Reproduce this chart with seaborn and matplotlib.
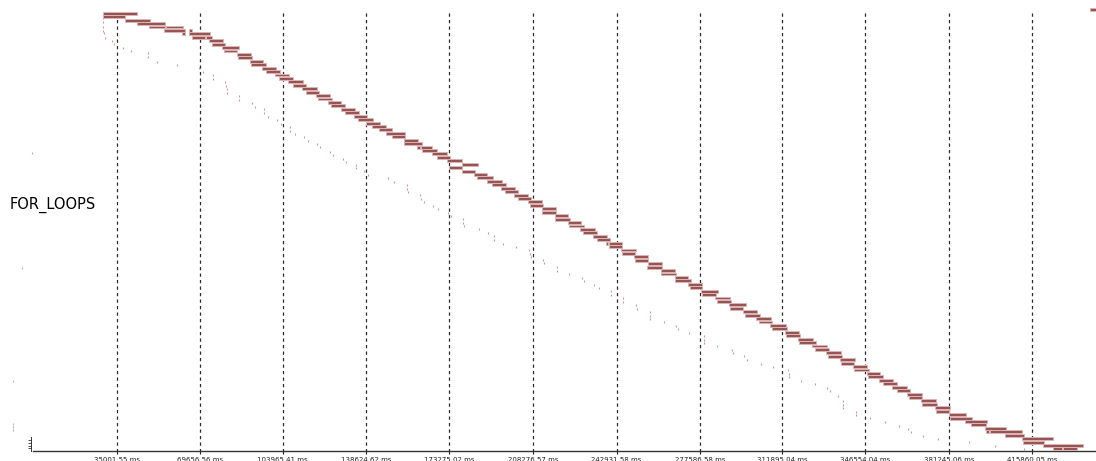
import matplotlib
matplotlib.use('Agg')

import numpy as np
import seaborn as sns
import matplotlib.pyplot as plt

# --- data (times in seconds, lanes counted from the top) ---
bar_row = [-1, 0, 1, 2, 3, 4, 4, 5, 5, 6, 6, 7, 7, 8, 9, 10, 11, 12, 13, 14, 15,
           16, 17, 18, 19, 20, 21, 22, 23, 24, 25, 26, 27, 28, 29, 30, 31, 32, 33,
           34, 35, 36, 37, 38, 39, 39, 40, 41, 42, 43, 44, 45, 46, 47, 48, 49, 50,
           51, 52, 53, 54, 55, 56, 57, 58, 59, 60, 61, 62, 63, 64, 65, 66, 67, 67,
           68, 69, 70, 71, 72, 73, 74, 75, 76, 77, 78, 79, 80, 81, 82, 83, 84, 85,
           86, 87, 88, 89, 90, 91, 92, 93, 94, 95, 96, 97, 98, 99, 100, 101, 102,
           103, 104, 105, 106, 107, 108, 109, 110, 111, 112, 113, 114, 115, 116,
           117, 118, 119, 120, 121, 122, 122, 123, 124, 125, 126, 127, 127]
bar_start = [440.0, 29.30, 29.30, 38.34, 43.21, 48.33, 55.40, 54.57, 64.85, 62.19, 65.10,
             66.10, 72.05, 73.30, 74.55, 78.84, 79.54, 84.83, 85.50, 90.37, 90.78,
             95.49, 96.90, 100.77, 102.44, 106.18, 108.39, 112.13, 113.55, 117.84,
             118.67, 122.83, 123.96, 128.12, 129.91, 133.78, 135.44, 138.77, 141.27,
             144.06, 146.85, 149.35, 154.59, 154.59, 160.00, 161.67, 161.83, 166.00,
             168.20, 172.36, 178.48, 173.32, 178.48, 183.73, 184.98, 188.89, 190.97,
             194.84, 196.51, 200.38, 201.79, 205.96, 207.04, 211.78, 212.03, 217.32,
             217.32, 222.60, 223.15, 227.85, 228.97, 233.26, 234.68, 238.55, 239.92,
             239.92, 244.79, 245.08, 250.33, 250.62, 255.90, 255.74, 261.44, 261.44,
             267.14, 267.27, 272.55, 273.51, 278.09, 278.38, 283.92, 284.87, 289.75,
             290.16, 295.45, 296.40, 300.98, 302.23, 306.81, 307.52, 313.05, 313.47,
             318.59, 319.01, 324.17, 325.54, 329.99, 330.95, 335.95, 336.36, 341.48,
             341.77, 347.06, 347.73, 352.18, 353.72, 357.47, 359.55, 363.71, 364.67,
             369.66, 370.20, 375.49, 375.91, 381.44, 381.73, 387.98, 390.47, 396.30,
             396.72, 398.38, 404.63, 411.58, 412.24, 420.57, 424.48, 428.64]
bar_end = [444.0, 43.46, 38.46, 48.62, 54.99, 54.99, 62.35, 63.43, 66.22, 63.43, 73.59,
           71.51, 74.55, 79.00, 79.83, 85.66, 85.08, 90.66, 91.07, 95.90, 97.15,
           101.06, 102.73, 106.47, 108.39, 112.43, 113.80, 118.13, 118.96, 123.67,
           124.37, 128.37, 130.03, 134.07, 135.74, 139.07, 141.56, 144.35, 147.10,
           149.60, 154.76, 154.76, 160.29, 161.96, 161.13, 166.24, 168.33, 172.36,
           173.49, 178.73, 185.39, 178.73, 184.02, 189.14, 191.39, 195.13, 196.80,
           200.67, 202.04, 206.20, 207.20, 212.03, 212.45, 217.61, 217.61, 222.85,
           223.56, 228.14, 229.39, 233.97, 234.93, 238.84, 240.22, 239.38, 245.08,
           245.33, 250.91, 250.62, 256.16, 256.16, 261.73, 261.73, 267.27, 267.56,
           272.80, 273.80, 278.38, 278.38, 285.29, 284.33, 290.16, 290.45, 296.70,
           295.70, 301.27, 302.65, 307.10, 307.77, 313.47, 313.76, 318.89, 319.30,
           324.58, 325.83, 330.41, 331.37, 336.24, 336.65, 342.19, 341.90, 347.31,
           348.02, 352.60, 353.97, 357.88, 359.80, 363.96, 365.08, 369.95, 370.20,
           375.78, 376.19, 381.73, 381.32, 388.40, 390.76, 397.01, 396.59, 404.92,
           397.97, 411.83, 412.66, 424.73, 420.99, 436.96, 428.22, 434.47]

# short event marks
mark_t = [29.30, 29.30, 29.30, 29.30, 29.72, 30.01, 32.80, 33.88, 37.38, 40.83, 48.03,
          48.03, 51.53, 59.85, 69.01, 70.93, 75.09, 75.09, 80.08, 80.38, 80.67, 80.92,
          85.91, 85.91, 91.07, 92.45, 96.32, 96.32, 97.73, 101.48, 103.27, 107.01,
          107.01, 109.10, 112.84, 114.38, 118.13, 119.50, 123.67, 124.79, 128.95,
          130.33, 134.49, 134.49, 137.94, 139.61, 147.68, 150.18, 155.59, 155.59,
          156.01, 161.25, 161.54, 162.67, 166.66, 168.49, 172.90, 174.03, 179.15,
          179.15, 179.44, 185.81, 189.55, 192.05, 192.05, 195.55, 201.08, 206.62,
          207.04, 207.33, 212.45, 212.74, 218.02, 218.02, 223.27, 228.43, 229.51,
          233.68, 235.51, 240.63, 240.63, 245.75, 245.75, 251.03, 251.32, 256.99,
          256.99, 256.99, 262.56, 267.68, 268.39, 272.97, 279.46, 279.46, 279.46,
          284.62, 290.87, 291.53, 296.11, 297.11, 303.06, 308.18, 314.30, 314.59,
          314.59, 319.70, 325.50, 330.50, 331.80, 335.10, 337.07, 337.32, 337.32,
          342.60, 342.60, 348.43, 354.67, 360.63, 364.37, 365.50, 370.37, 376.61,
          389.77, 400.46, 412.53]
mark_row = [1.37, 2.53, 4.0, 5.16, 5.74, 7.2, 8.07, 9.03, 10.0, 11.0, 11.56, 12.73,
            14.19, 15.15, 16.02, 17.1, 17.97, 19.14, 20.0, 21.18, 22.05, 23.2, 24.1,
            25.25, 26.04, 27.2, 27.88, 29.0, 30.12, 31.08, 32.16, 33.03, 34.2, 35.16,
            36.12, 37.11, 38.07, 39.03, 40.31, 41.19, 42.35, 43.23, 44.1, 45.15, 46.02,
            47.01, 47.98, 49.14, 50.1, 51.09, 52.05, 53.01, 54.0, 55.05, 56.04, 57.0,
            58.17, 59.04, 60.0, 61.0, 62.05, 63.03, 64.0, 64.96, 66.12, 67.2, 68.16,
            69.03, 70.03, 71.0, 71.95, 72.94, 73.99, 75.15, 76.14, 77.1, 78.07, 79.14,
            80.1, 80.98, 82.05, 83.02, 84.18, 85.17, 86.13, 87.21, 88.17, 89.13, 90.12,
            91.09, 92.05, 93.21, 94.2, 95.16, 96.13, 97.12, 98.08, 99.04, 100.03,
            101.08, 102.16, 103.12, 104.11, 105.07, 106.03, 107.1, 108.2, 109.1, 110.1,
            111.5, 113.14, 114.19, 115.18, 116.14, 117.1, 118.09, 119.25, 120.21,
            121.18, 122.17, 123.13, 124.09, 125.08, 126.04, 127.0]

# marks from other lanes, left of time zero
side_t = [-0.50, -4.54, -8.41, -8.41, -8.41, -8.41]
side_row = [40.8, 74.3, 107.3, 119.6, 120.5, 121.4]

tick_ms = [35001.55, 69656.56, 103965.41, 138624.62, 173275.02, 208276.57,
           242931.58, 277586.58, 311895.04, 346554.04, 381245.06, 415860.05]
lane_label = "FOR_LOOPS"

sns.set_theme(style="white")
plt.rcParams['font.family'] = ['DejaVu Sans']

fig = plt.figure(figsize=(10.96, 4.61), dpi=100)
ax = fig.add_axes([0, 10 / 461, 1, 451 / 461])

starts = np.array(bar_start)
widths = np.array(bar_end) - starts
ax.barh(bar_row, widths, left=starts, height=0.85, color='#965454',
        edgecolor='#dbb4b4', linewidth=0.7, zorder=3)

sns.scatterplot(x=mark_t, y=mark_row, marker='|', s=4, linewidth=0.8,
                color='#bd7f7f', alpha=0.8, ax=ax, zorder=2)
sns.scatterplot(x=side_t, y=side_row, marker='|', s=4, linewidth=0.8,
                color='#b5b5b5', ax=ax, zorder=2)

ticks = np.array(tick_ms) / 1000.0
ax.vlines(ticks, -0.1, 127.6, colors='#2a2a2a', linewidth=0.9,
          linestyles=(0, (2.6, 2.6)), zorder=1)

ax.set_xlim(-13.69, 442.5)
ax.set_ylim(127.6, -3.87)

ax.set_xticks(ticks)
ax.set_xticklabels([f"{v:.2f} ms" for v in tick_ms], fontsize=5)
ax.tick_params(axis='x', direction='out', length=2, width=0.8, pad=2.5,
               bottom=True, colors='#222222')

ax.set_yticks([124.3, 125.3, 126.1, 126.8])
ax.set_yticklabels([])
ax.tick_params(axis='y', direction='out', length=2, width=0.6, left=True,
               colors='#333333')

for side in ['top', 'right']:
    ax.spines[side].set_visible(False)
ax.spines['bottom'].set_color('#333333')
ax.spines['bottom'].set_linewidth(1.0)
ax.spines['bottom'].set_bounds(0, 442.5)
ax.spines['left'].set_position(('data', -0.6))
ax.spines['left'].set_bounds(123.5, 127.6)
ax.spines['left'].set_color('#333333')
ax.spines['left'].set_linewidth(0.7)

ax.text(10 / 1096, (451 - 205) / 451, lane_label, transform=ax.transAxes,
        fontsize=10.5, color='black', va='center', ha='left')

ax.set_xlabel('')
ax.set_ylabel('')
ax.grid(False)

fig.savefig('out.png', dpi=100)
